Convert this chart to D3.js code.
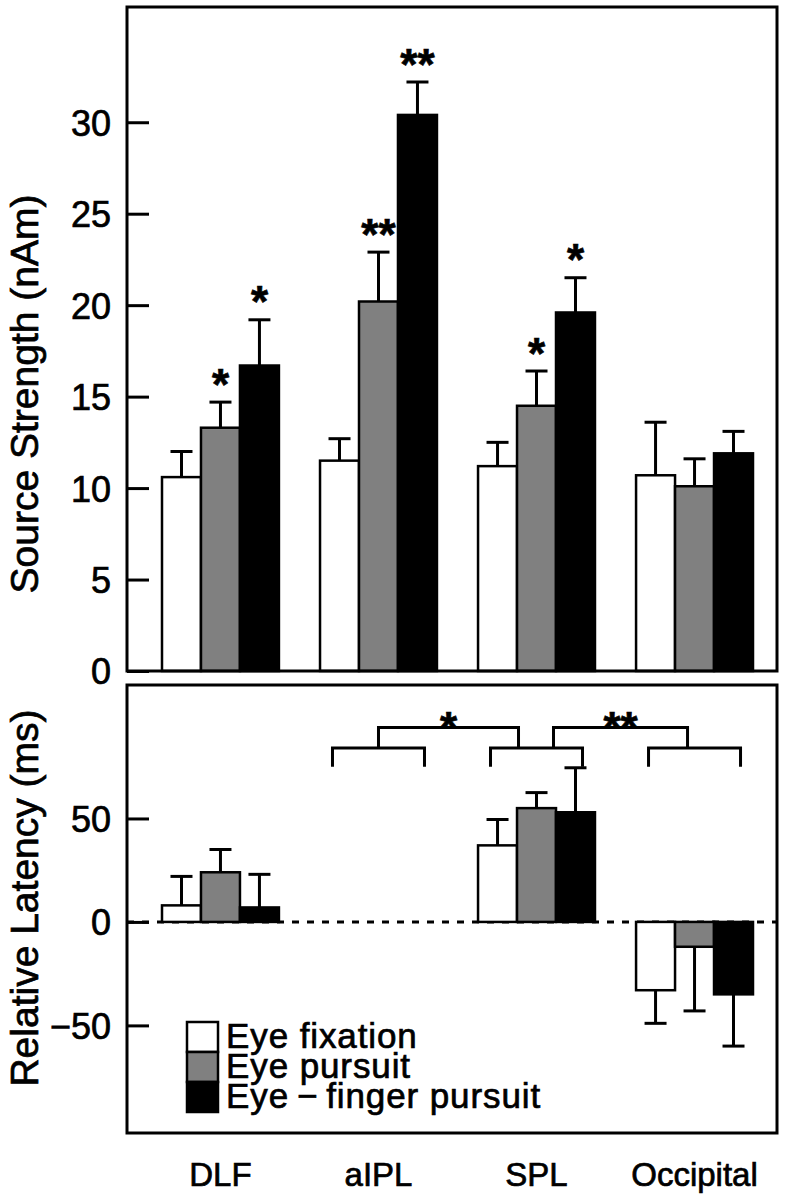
<!DOCTYPE html>
<html>
<head>
<meta charset="utf-8">
<script src="https://cdn.jsdelivr.net/npm/d3@7"></script>
<style>
  html, body { margin: 0; padding: 0; background: #fff; }
  svg { display: block; }
  text { font-family: "Liberation Sans", Arial, Helvetica, sans-serif; fill: #000; stroke: #000; stroke-width: 0.7px; }
</style>
</head>
<body>
<svg id="chart" width="786" height="1199"></svg>
<script>
// ---------- data ----------
const categories = ["DLF", "aIPL", "SPL", "Occipital"];
const seriesNames = ["Eye fixation", "Eye pursuit", "Eye\u2009\u2212\u2009finger pursuit"];
const seriesColors = ["#ffffff", "#808080", "#000000"];

// Source strength (nAm): mean and SEM per category, per series
const strengthFixation = [10.6, 11.5, 11.2, 10.7];
const strengthPursuit  = [13.3, 20.2, 14.5, 10.1];
const strengthFinger   = [16.7, 30.4, 19.6, 11.9];
const strengthErrFixation = [1.4, 1.2, 1.3, 2.9];
const strengthErrPursuit  = [1.4, 2.7, 1.9, 1.5];
const strengthErrFinger   = [2.5, 1.8, 1.9, 1.2];
const strengthStars = [["", "*", "*"], ["", "**", "**"], ["", "*", "*"], ["", "", ""]];

// Relative latency (ms): aIPL has no bars
const latencyFixation = [8, null, 37, -33];
const latencyPursuit  = [24, null, 55, -12];
const latencyFinger   = [7, null, 53, -35];
const latencyErrFixation = [14, null, 12.5, 16];
const latencyErrPursuit  = [11, null, 7.5, 31];
const latencyErrFinger   = [16, null, 21.5, 25];

const strengthTicks = [0, 5, 10, 15, 20, 25, 30];
const latencyTicks = [-50, 0, 50];

// significance brackets in the latency panel
const bracketGroups = ["aIPL", "SPL", "Occipital"];
const comparisons = [
  { from: "aIPL", to: "SPL", label: "*" },
  { from: "SPL", to: "Occipital", label: "**" }
];
const bracketLevel = 84, bracketLegEnd = 75, comparisonLevel = 94;

// ---------- layout ----------
const svg = d3.select("#chart");
const left = 127, right = 777;
const top1 = 7, bottom1 = 671;
const top2 = 685, bottom2 = 1133;
const FONT = 36;

const x0 = d3.scaleBand().domain(categories).range([162, 753]).paddingInner(0.26).paddingOuter(0);
const x1 = d3.scaleBand().domain(d3.range(3)).range([0, x0.bandwidth()]).padding(0);
const yTop = d3.scaleLinear().domain([0, 36.3]).range([bottom1, top1]);
const yBot = d3.scaleLinear().domain([-102, 114.5]).range([bottom2, top2]);

function rows(means, errs) {
  const out = [];
  categories.forEach((c, i) => {
    means.forEach((m, s) => {
      if (m[i] !== null) out.push({ cat: c, s: s, v: m[i], e: errs[s][i], i: i });
    });
  });
  return out;
}
const topRows = rows([strengthFixation, strengthPursuit, strengthFinger],
                     [strengthErrFixation, strengthErrPursuit, strengthErrFinger]);
const botRows = rows([latencyFixation, latencyPursuit, latencyFinger],
                     [latencyErrFixation, latencyErrPursuit, latencyErrFinger]);

function drawPanel(g, rowsData, y, ticks) {
  const cx = d => x0(d.cat) + x1(d.s) + x1.bandwidth() / 2;
  // error bars (one-sided, away from zero)
  const eb = g.append("g").attr("stroke", "#000").attr("stroke-width", 3).attr("fill", "none");
  rowsData.forEach(d => {
    const end = d.v >= 0 ? d.v + d.e : d.v - d.e;
    eb.append("line").attr("x1", cx(d)).attr("x2", cx(d)).attr("y1", y(d.v)).attr("y2", y(end));
    eb.append("line").attr("x1", cx(d) - 11).attr("x2", cx(d) + 11).attr("y1", y(end)).attr("y2", y(end));
  });
  // bars
  g.append("g").selectAll("rect").data(rowsData).join("rect")
    .attr("x", d => x0(d.cat) + x1(d.s))
    .attr("width", x1.bandwidth())
    .attr("y", d => y(Math.max(0, d.v)))
    .attr("height", d => Math.abs(y(d.v) - y(0)))
    .attr("fill", d => seriesColors[d.s])
    .attr("stroke", "#000").attr("stroke-width", 2.5);
  // y axis
  const ax = g.append("g").attr("transform", `translate(${left},0)`)
    .call(d3.axisRight(y).tickValues(ticks).tickSize(22).tickFormat(d3.format("d")));
  ax.select(".domain").remove();
  ax.selectAll(".tick line").attr("stroke", "#000").attr("stroke-width", 3);
  ax.selectAll(".tick text").attr("x", -16).attr("text-anchor", "end")
    .attr("font-size", FONT).attr("font-family", '"Liberation Sans", Arial, sans-serif')
    .attr("dy", "0.36em").attr("fill", "#000");
}

// ---------- top panel ----------
const gTop = svg.append("g");
drawPanel(gTop, topRows, yTop, strengthTicks);
gTop.append("rect").attr("x", left).attr("y", top1).attr("width", right - left).attr("height", bottom1 - top1)
  .attr("fill", "none").attr("stroke", "#000").attr("stroke-width", 3);
// significance stars
topRows.forEach(d => {
  const lab = strengthStars[d.i][d.s];
  if (!lab) return;
  const cx = x0(d.cat) + x1(d.s) + x1.bandwidth() / 2;
  gTop.append("text").attr("x", cx).attr("y", yTop(d.v + d.e) - 28 + 0.58 * 44)
    .attr("text-anchor", "middle").attr("font-size", 44).attr("font-weight", "bold").text(lab);
});
gTop.append("text")
  .attr("transform", `translate(38,394) rotate(-90)`)
  .attr("text-anchor", "middle").attr("font-size", 39).text("Source Strength (nAm)");

// ---------- bottom panel ----------
const gBot = svg.append("g");
// dashed zero line
gBot.append("line").attr("x1", left).attr("x2", right).attr("y1", yBot(0)).attr("y2", yBot(0))
  .attr("stroke", "#000").attr("stroke-width", 3).attr("stroke-dasharray", "7,8");
drawPanel(gBot, botRows, yBot, latencyTicks);
gBot.append("rect").attr("x", left).attr("y", top2).attr("width", right - left).attr("height", bottom2 - top2)
  .attr("fill", "none").attr("stroke", "#000").attr("stroke-width", 3);

// brackets
const gc = c => x0(c) + x0.bandwidth() / 2;
const br = gBot.append("g").attr("stroke", "#000").attr("stroke-width", 3).attr("fill", "none");
bracketGroups.forEach(c => {
  const xa = gc(c) - 46, xb = gc(c) + 46;
  br.append("path").attr("d",
    `M${xa},${yBot(bracketLegEnd)}V${yBot(bracketLevel)}H${xb}V${yBot(bracketLegEnd)}`);
});
comparisons.forEach((cmp, k) => {
  const xa = gc(cmp.from) + (k === 0 ? 0 : 17);
  const xb = gc(cmp.to) - (k === 0 ? 18 : 7);
  br.append("path").attr("d",
    `M${xa},${yBot(bracketLevel)}V${yBot(comparisonLevel)}H${xb}V${yBot(bracketLevel)}`);
  gBot.append("text").attr("x", (xa + xb) / 2).attr("y", yBot(comparisonLevel) - 10 + 0.58 * 44)
    .attr("text-anchor", "middle").attr("font-size", 44).attr("font-weight", "bold").text(cmp.label);
});

gBot.append("text")
  .attr("transform", `translate(38,898) rotate(-90)`)
  .attr("text-anchor", "middle").attr("font-size", 39).text("Relative Latency (ms)");

// legend
const lg = svg.append("g");
seriesNames.forEach((n, s) => {
  lg.append("rect").attr("x", 187).attr("y", 1022 + s * 30).attr("width", 31).attr("height", 30)
    .attr("fill", seriesColors[s]).attr("stroke", "#000").attr("stroke-width", 2.5);
  lg.append("text").attr("x", 226).attr("y", 1048 + s * 30).attr("font-size", 35)
    .attr("letter-spacing", 0.9).text(n);
});

// category labels
svg.append("g").selectAll("text").data(categories).join("text")
  .attr("x", d => gc(d)).attr("y", 1186)
  .attr("text-anchor", "middle").attr("font-size", 33).text(d => d);
</script>
</body>
</html>
